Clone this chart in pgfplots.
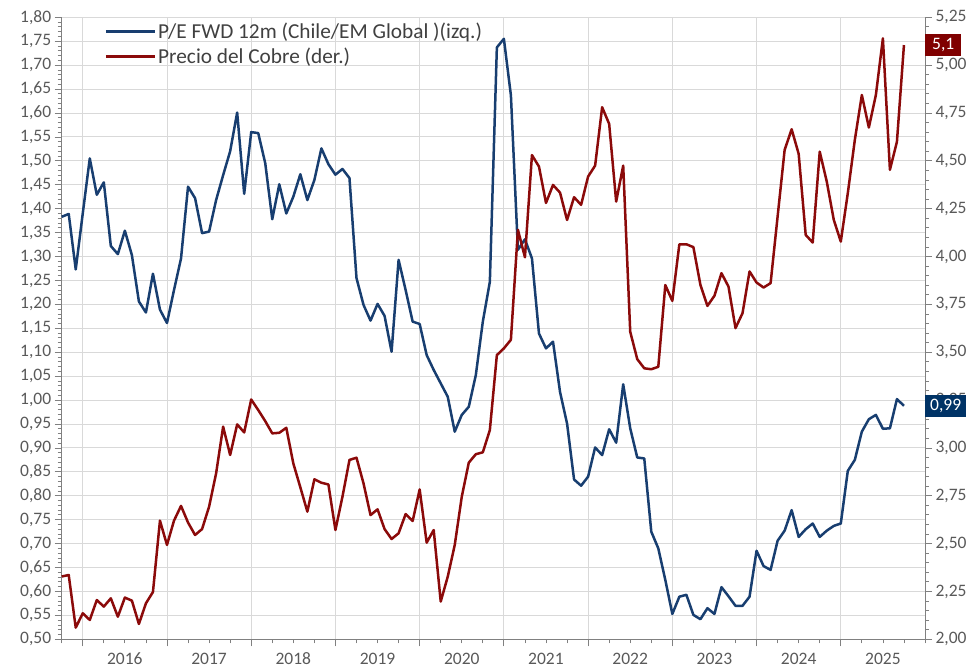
\documentclass[border=0pt]{standalone}
\usepackage{pgfplots}
\pgfplotsset{compat=1.18}
\usepackage{fontspec}
\setmainfont{Carlito}
\definecolor{pblue}{RGB}{24,62,112}
\definecolor{pred}{RGB}{139,10,10}
\definecolor{boxblue}{RGB}{0,51,102}
\definecolor{boxred}{RGB}{128,0,0}
\definecolor{gridc}{RGB}{217,217,217}
\definecolor{axc}{RGB}{128,128,128}
\definecolor{labc}{RGB}{89,89,89}
\definecolor{legc}{RGB}{64,64,64}

\pgfplotstableread{
x pe
-3 1.383
-2 1.389
-1 1.273
0 1.390
1 1.505
2 1.429
3 1.455
4 1.322
5 1.305
6 1.354
7 1.303
8 1.206
9 1.183
10 1.264
11 1.189
12 1.161
13 1.230
14 1.296
15 1.446
16 1.422
17 1.349
18 1.352
19 1.418
20 1.470
21 1.520
22 1.601
23 1.431
24 1.560
25 1.558
26 1.495
27 1.378
28 1.451
29 1.390
30 1.425
31 1.472
32 1.418
33 1.460
34 1.526
35 1.493
36 1.471
37 1.483
38 1.464
39 1.255
40 1.199
41 1.166
42 1.201
43 1.176
44 1.101
45 1.293
46 1.230
47 1.164
48 1.159
49 1.094
50 1.063
51 1.035
52 1.007
53 0.934
54 0.969
55 0.986
56 1.052
57 1.164
58 1.247
59 1.737
60 1.755
61 1.637
62 1.314
63 1.336
64 1.296
65 1.139
66 1.108
67 1.122
68 1.017
69 0.951
70 0.834
71 0.821
72 0.840
73 0.901
74 0.885
75 0.939
76 0.911
77 1.033
78 0.941
79 0.880
80 0.878
81 0.725
82 0.690
83 0.624
84 0.553
85 0.589
86 0.593
87 0.551
88 0.542
89 0.565
90 0.553
91 0.609
92 0.590
93 0.570
94 0.570
95 0.589
96 0.685
97 0.653
98 0.645
99 0.706
100 0.727
101 0.770
102 0.714
103 0.730
104 0.742
105 0.714
106 0.727
107 0.737
108 0.742
109 0.852
110 0.875
111 0.934
112 0.960
113 0.969
114 0.940
115 0.941
116 1.002
117 0.988
}\petable

\pgfplotstableread{
x cu
-3 2.328
-2 2.336
-1 2.061
0 2.136
1 2.101
2 2.205
3 2.171
4 2.214
5 2.118
6 2.218
7 2.202
8 2.080
9 2.188
10 2.247
11 2.620
12 2.493
13 2.620
14 2.697
15 2.610
16 2.545
17 2.576
18 2.693
19 2.867
20 3.111
21 2.963
22 3.123
23 3.081
24 3.253
25 3.198
26 3.140
27 3.076
28 3.079
29 3.105
30 2.919
31 2.794
32 2.667
33 2.836
34 2.818
35 2.809
36 2.571
37 2.745
38 2.937
39 2.949
40 2.815
41 2.649
42 2.679
43 2.576
44 2.524
45 2.554
46 2.654
47 2.618
48 2.783
49 2.505
50 2.571
51 2.197
52 2.327
53 2.493
54 2.745
55 2.923
56 2.967
57 2.977
58 3.093
59 3.485
60 3.520
61 3.565
62 4.140
63 3.996
64 4.530
65 4.470
66 4.280
67 4.374
68 4.334
69 4.191
70 4.310
71 4.270
72 4.418
73 4.475
74 4.780
75 4.693
76 4.287
77 4.475
78 3.607
79 3.464
80 3.416
81 3.411
82 3.424
83 3.851
84 3.768
85 4.064
86 4.064
87 4.049
88 3.852
89 3.742
90 3.795
91 3.913
92 3.843
93 3.626
94 3.704
95 3.922
96 3.864
97 3.838
98 3.861
99 4.209
100 4.557
101 4.665
102 4.536
103 4.113
104 4.073
105 4.548
106 4.392
107 4.192
108 4.078
109 4.331
110 4.609
111 4.844
112 4.674
113 4.844
114 5.140
115 4.453
116 4.600
117 5.105
}\cutable

\begin{document}
\begin{tikzpicture}
\path[use as bounding box] (-61.7pt,-28.7pt) rectangle (911.3pt,639.3pt);
\pgfplotsset{
  common/.style={
    at={(0pt,0pt)}, anchor=south west,
    scale only axis, width=863.3pt, height=622pt,
    xmin=-3, xmax=120,
    tick align=outside,
    major tick length=7pt, minor tick length=4pt,
    tick style={color=axc, line width=0.8pt},
    axis line style={color=axc, line width=0.9pt},
    ticklabel style={font=\fontsize{17.5}{20}\selectfont, text=labc},
    /pgf/number format/assume math mode=true,
    yticklabel style={/pgf/number format/.cd, fixed, fixed zerofill, precision=2, use comma},
    minor y tick num=4,
    clip=false,
  }
}
\begin{axis}[common,
  ymin=0.5, ymax=1.8,
  axis y line*=left, axis x line*=bottom,
  xtick={0,12,...,108},
  xticklabels={2016,2017,2018,2019,2020,2021,2022,2023,2024,2025},
  xticklabel style={xshift=42.1pt, yshift=-3pt},
  minor xtick={-3,0,...,120},
  ytick={0.50,0.55,0.60,0.65,0.70,0.75,0.80,0.85,0.90,0.95,1.00,1.05,1.10,1.15,1.20,1.25,1.30,1.35,1.40,1.45,1.50,1.55,1.60,1.65,1.70,1.75,1.80},
  grid=major,
  major grid style={color=gridc, line width=0.9pt},
  legend style={at={(0.046,0.998)}, anchor=north west, draw=none, fill=none,
    font=\fontsize{21.3}{24}\selectfont, text=legc, row sep=4pt,
    /tikz/every even column/.append style={column sep=0pt}},
  legend cell align=left,
  legend image code/.code={\draw[#1, line width=2.6pt] (0pt,0pt) -- (49pt,0pt);},
]
\addplot[pblue, line width=2.5pt, line join=round] table[x=x, y=pe] {\petable};
\addlegendentry{P/E FWD 12m (Chile/EM Global )(izq.)}
\addlegendimage{pred, line width=2.5pt}
\addlegendentry{Precio del Cobre (der.)}
\end{axis}
\begin{axis}[common,
  ymin=2, ymax=5.25,
  axis y line*=right, axis x line=none,
  ytick={2,2.25,...,5.25},
  after end axis/.code={
    \node[fill=boxred, text=white, anchor=west, inner xsep=7pt, inner ysep=4pt,
      text height=11.5pt, text depth=3pt, font=\fontsize{17.5}{20}\selectfont]
      at (axis cs:120,5.105) {5,1};
    \node[fill=boxblue, text=white, anchor=west, inner xsep=5pt, inner ysep=4pt,
      text height=11.5pt, text depth=3pt, font=\fontsize{17.5}{20}\selectfont]
      at (axis cs:120,3.22) {0,99};
  },
]
\addplot[pred, line width=2.5pt, line join=round] table[x=x, y=cu] {\cutable};
\end{axis}
\end{tikzpicture}
\end{document}
